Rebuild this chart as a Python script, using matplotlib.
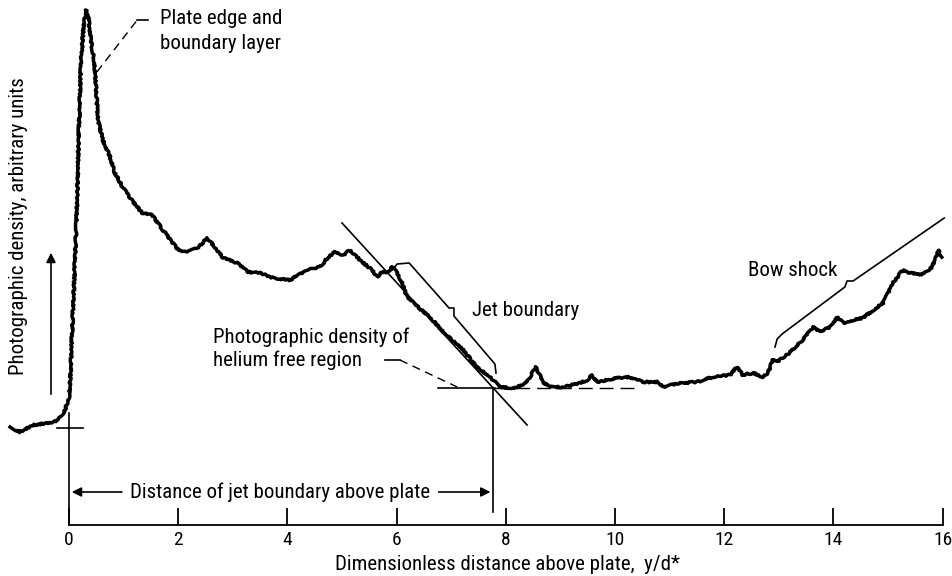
import matplotlib
matplotlib.use('Agg')
from matplotlib import pyplot as plt
import numpy as np

plt.rcParams['font.family'] = ['Roboto Condensed', 'Archivo Narrow', 'DejaVu Sans']

# trace: y/d* and photographic density (arbitrary units)
yd = [-1.08, -0.90, -0.66, -0.35, -0.20, -0.07, 0.00, 0.02, 0.11, 0.15,
      0.18, 0.22, 0.27, 0.31, 0.35, 0.40, 0.46, 0.48, 0.53, 0.62,
      0.75, 0.84, 0.99, 1.15, 1.34, 1.52, 1.72, 2.00, 2.16, 2.36,
      2.53, 2.67, 2.82, 3.08, 3.28, 3.50, 3.74, 4.05, 4.36, 4.60,
      4.73, 4.87, 5.02, 5.15, 5.33, 5.55, 5.64, 5.73, 5.84, 5.92,
      6.01, 6.10, 6.19, 6.39, 6.61, 6.79, 7.01, 7.22, 7.47, 7.71,
      7.89, 8.13, 8.32, 8.44, 8.55, 8.68, 8.81, 9.05, 9.36, 9.49,
      9.58, 9.67, 9.85, 10.04, 10.27, 10.51, 10.77, 10.88, 11.19, 11.50,
      11.79, 12.11, 12.23, 12.34, 12.53, 12.71, 12.80, 12.89, 12.97, 13.21,
      13.44, 13.63, 13.75, 13.94, 14.08, 14.18, 14.36, 14.54, 14.73, 14.91,
      15.09, 15.27, 15.40, 15.62, 15.81, 15.92, 15.99]
density = [9.8, 9.3, 10.0, 10.2, 10.5, 11.5, 12.8, 14.2, 26.5, 32.5,
           39.5, 46.5, 50.0, 51.5, 51.0, 48.5, 46.5, 45.0, 40.5, 38.5,
           36.8, 35.2, 33.7, 32.5, 31.2, 31.0, 29.5, 27.5, 27.3, 27.7,
           28.7, 27.8, 26.7, 26.2, 25.3, 25.2, 24.7, 24.5, 25.5, 25.8,
           26.7, 27.3, 27.0, 27.5, 26.5, 25.5, 24.8, 25.3, 25.3, 25.8,
           25.2, 24.2, 22.8, 21.8, 20.8, 19.7, 18.5, 17.5, 15.8, 14.8,
           13.8, 13.7, 14.0, 14.8, 15.8, 14.3, 13.8, 13.8, 14.2, 14.5,
           15.0, 14.3, 14.5, 14.7, 14.8, 14.3, 14.3, 13.8, 14.2, 14.3,
           14.8, 15.0, 15.8, 15.0, 15.2, 14.8, 15.2, 16.5, 16.3, 17.3,
           18.5, 19.8, 19.3, 19.8, 20.8, 20.2, 20.5, 20.7, 21.5, 22.2,
           24.2, 25.5, 25.2, 25.0, 25.8, 27.5, 26.8]

xticks = [0, 2, 4, 6, 8, 10, 12, 14, 16]
jet_edge = 7.77       # distance of jet boundary above plate
free_level = 13.7     # density of helium free region
fs = 15

fig = plt.figure(figsize=(9.52, 5.76), dpi=100)
ax = fig.add_axes([0, 0, 1, 1])
ax.set_xlim(-1.264, 16.172)
ax.set_ylim(-5.1, 52.5)

for s in ['top', 'right', 'left']:
    ax.spines[s].set_visible(False)
ax.spines['bottom'].set_position(('data', 0))
ax.spines['bottom'].set_bounds(0, 16)
ax.spines['bottom'].set_linewidth(1.3)
ax.set_xticks(xticks)
ax.set_xticklabels([str(t) for t in xticks])
ax.tick_params(axis='x', direction='in', length=12, width=1.3, labelsize=14, pad=4)
ax.set_yticks([])

line, = ax.plot(yd, density, color='black', lw=2.5, solid_joinstyle='round')
line.set_sketch_params(scale=0.8, length=3, randomness=20)

k = dict(color='black', lw=1.2)
# plate reference cross
ax.plot([0, 0], [0, 11.2], **k)
ax.plot([-0.22, 0.26], [9.7, 9.7], **k)
# helium free level and jet boundary marker
ax.plot([6.76, 7.80], [free_level, free_level], **k)
ax.plot([7.80, 10.42], [free_level, free_level], color='black', lw=1.0, dashes=(10, 5))
ax.plot([jet_edge, jet_edge], [1.3, free_level], **k)
# tangent to jet boundary
ax.plot([5.0, 8.39], [30.2, 10.0], **k)
# jet boundary bracket
ax.plot([5.92, 6.01, 6.23, 6.96, 7.05, 7.05, 7.80, 7.82],
        [25.5, 26.1, 26.2, 21.7, 21.7, 20.9, 16.1, 15.2], **k)
# bow shock bracket
ax.plot([12.93, 12.97, 13.06, 14.21, 14.25, 14.36, 16.03],
        [17.8, 18.6, 19.1, 23.8, 24.4, 24.4, 30.7], **k)

# distance arrow
arr = dict(arrowstyle='-|>', color='black', lw=1.2, mutation_scale=14)
ax.annotate('', xy=(0, 3.3), xytext=(1.02, 3.3), arrowprops=arr)
ax.annotate('', xy=(jet_edge, 3.3), xytext=(6.72, 3.3), arrowprops=arr)
ax.text(3.87, 3.3, 'Distance of jet boundary above plate', ha='center', va='center', fontsize=fs)

# density arrow on the left
ax.annotate('', xy=(-0.33, 27.5), xytext=(-0.33, 12.8),
            arrowprops=dict(arrowstyle='-|>', color='black', lw=1.2, mutation_scale=14))

# leaders
ax.plot([0.51, 1.25], [45.3, 50.5], color='black', lw=1.0, dashes=(6, 4))
ax.plot([1.25, 1.45], [50.5, 50.5], **k)
ax.text(1.66, 49.4, 'Plate edge and\nboundary layer', ha='left', va='center', fontsize=fs, linespacing=1.35)

ax.plot([5.79, 6.06], [16.5, 16.5], **k)
ax.plot([6.06, 7.11], [16.5, 13.8], color='black', lw=1.0, dashes=(6, 4))
ax.text(2.64, 17.6, 'Photographic density of\nhelium free region', ha='left', va='center', fontsize=fs, linespacing=1.2)

ax.text(7.38, 21.5, 'Jet boundary', ha='left', va='center', fontsize=fs)
ax.text(12.44, 25.5, 'Bow shock', ha='left', va='center', fontsize=fs)

ax.text(-0.93, 29.9, 'Photographic density, arbitrary units', rotation=90,
        ha='center', va='center', fontsize=fs)
ax.text(8.04, -4.0, 'Dimensionless distance above plate,  y/d*', ha='center', va='center', fontsize=fs)

fig.savefig('out.png', dpi=100)
